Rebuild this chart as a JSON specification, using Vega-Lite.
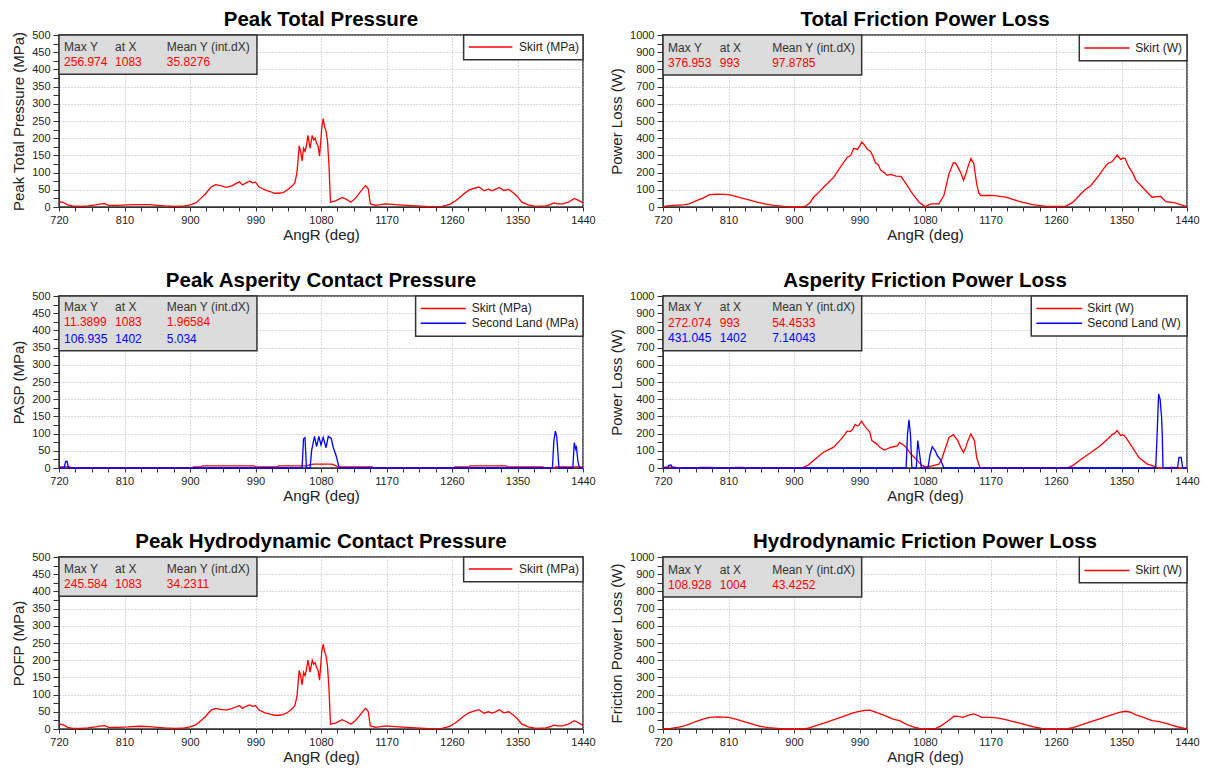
{
  "$schema": "https://vega.github.io/schema/vega-lite/v6.json",
  "background": "white",
  "padding": {"left": 10, "top": 8, "right": 5, "bottom": 3},
  "columns": 2,
  "spacing": {"row": 26, "column": 12},
  "datasets": {
    "tp": [{"x":720,"y":16},{"x":726,"y":13},{"x":732,"y":6},{"x":738,"y":3},{"x":750,"y":2},{"x":760,"y":3},{"x":770,"y":6},{"x":778,"y":9},{"x":783,"y":10},{"x":788,"y":5},{"x":800,"y":5},{"x":815,"y":6},{"x":830,"y":7},{"x":845,"y":7},{"x":855,"y":5},{"x":865,"y":3},{"x":880,"y":2},{"x":893,"y":3},{"x":900,"y":6},{"x":908,"y":12},{"x":915,"y":25},{"x":922,"y":40},{"x":929,"y":58},{"x":935,"y":65},{"x":942,"y":62},{"x":950,"y":57},{"x":958,"y":62},{"x":963,"y":68},{"x":968,"y":73},{"x":972,"y":64},{"x":977,"y":70},{"x":982,"y":75},{"x":986,"y":70},{"x":990,"y":72},{"x":995,"y":58},{"x":1003,"y":50},{"x":1010,"y":45},{"x":1016,"y":40},{"x":1022,"y":40},{"x":1028,"y":42},{"x":1034,"y":50},{"x":1040,"y":60},{"x":1044,"y":70},{"x":1047,"y":100},{"x":1049,"y":150},{"x":1050,"y":178},{"x":1052,"y":162},{"x":1054,"y":134},{"x":1056,"y":171},{"x":1058,"y":162},{"x":1060,"y":178},{"x":1062,"y":208},{"x":1065,"y":171},{"x":1068,"y":208},{"x":1070,"y":195},{"x":1072,"y":200},{"x":1074,"y":185},{"x":1076,"y":177},{"x":1078,"y":148},{"x":1080,"y":200},{"x":1081,"y":230},{"x":1083,"y":257},{"x":1085,"y":232},{"x":1087,"y":220},{"x":1089,"y":190},{"x":1091,"y":120},{"x":1093,"y":14},{"x":1100,"y":18},{"x":1109,"y":28},{"x":1115,"y":22},{"x":1121,"y":14},{"x":1127,"y":25},{"x":1132,"y":38},{"x":1137,"y":52},{"x":1141,"y":62},{"x":1143,"y":58},{"x":1145,"y":52},{"x":1147,"y":20},{"x":1148,"y":9},{"x":1155,"y":5},{"x":1169,"y":9},{"x":1187,"y":6},{"x":1210,"y":3},{"x":1228,"y":1},{"x":1246,"y":2},{"x":1252,"y":5},{"x":1258,"y":9},{"x":1265,"y":18},{"x":1269,"y":25},{"x":1276,"y":38},{"x":1283,"y":49},{"x":1290,"y":54},{"x":1297,"y":58},{"x":1304,"y":47},{"x":1310,"y":52},{"x":1315,"y":47},{"x":1320,"y":52},{"x":1325,"y":57},{"x":1331,"y":48},{"x":1338,"y":51},{"x":1345,"y":40},{"x":1350,"y":30},{"x":1356,"y":14},{"x":1365,"y":6},{"x":1375,"y":2},{"x":1389,"y":3},{"x":1395,"y":7},{"x":1400,"y":12},{"x":1405,"y":9},{"x":1412,"y":9},{"x":1420,"y":14},{"x":1428,"y":25},{"x":1433,"y":20},{"x":1438,"y":14},{"x":1440,"y":13}],
    "hp": [{"x":720,"y":15},{"x":726,"y":12},{"x":732,"y":5},{"x":738,"y":2},{"x":750,"y":2},{"x":760,"y":3},{"x":770,"y":6},{"x":778,"y":9},{"x":783,"y":10},{"x":788,"y":5},{"x":800,"y":5},{"x":815,"y":6},{"x":830,"y":8},{"x":845,"y":7},{"x":855,"y":5},{"x":865,"y":3},{"x":880,"y":2},{"x":893,"y":3},{"x":900,"y":6},{"x":908,"y":12},{"x":915,"y":24},{"x":922,"y":38},{"x":929,"y":55},{"x":935,"y":60},{"x":942,"y":57},{"x":950,"y":55},{"x":958,"y":60},{"x":963,"y":64},{"x":968,"y":68},{"x":972,"y":60},{"x":977,"y":66},{"x":982,"y":70},{"x":986,"y":66},{"x":990,"y":68},{"x":995,"y":55},{"x":1003,"y":47},{"x":1010,"y":43},{"x":1016,"y":40},{"x":1022,"y":40},{"x":1028,"y":42},{"x":1034,"y":48},{"x":1040,"y":58},{"x":1044,"y":68},{"x":1047,"y":95},{"x":1049,"y":145},{"x":1050,"y":170},{"x":1052,"y":155},{"x":1054,"y":128},{"x":1056,"y":165},{"x":1058,"y":155},{"x":1060,"y":172},{"x":1062,"y":200},{"x":1065,"y":165},{"x":1068,"y":200},{"x":1070,"y":188},{"x":1072,"y":193},{"x":1074,"y":178},{"x":1076,"y":170},{"x":1078,"y":142},{"x":1080,"y":195},{"x":1081,"y":225},{"x":1083,"y":246},{"x":1085,"y":225},{"x":1087,"y":212},{"x":1089,"y":182},{"x":1091,"y":115},{"x":1093,"y":14},{"x":1100,"y":17},{"x":1109,"y":27},{"x":1115,"y":21},{"x":1121,"y":14},{"x":1127,"y":24},{"x":1132,"y":36},{"x":1137,"y":50},{"x":1141,"y":60},{"x":1143,"y":56},{"x":1145,"y":50},{"x":1147,"y":19},{"x":1148,"y":9},{"x":1155,"y":5},{"x":1169,"y":9},{"x":1187,"y":6},{"x":1210,"y":3},{"x":1228,"y":1},{"x":1246,"y":2},{"x":1252,"y":5},{"x":1258,"y":9},{"x":1265,"y":18},{"x":1269,"y":25},{"x":1276,"y":37},{"x":1283,"y":47},{"x":1290,"y":52},{"x":1297,"y":56},{"x":1304,"y":46},{"x":1310,"y":50},{"x":1315,"y":46},{"x":1320,"y":50},{"x":1325,"y":56},{"x":1331,"y":47},{"x":1338,"y":50},{"x":1345,"y":39},{"x":1350,"y":29},{"x":1356,"y":14},{"x":1365,"y":6},{"x":1375,"y":2},{"x":1389,"y":3},{"x":1395,"y":7},{"x":1400,"y":11},{"x":1405,"y":9},{"x":1412,"y":9},{"x":1420,"y":14},{"x":1428,"y":24},{"x":1433,"y":19},{"x":1438,"y":13},{"x":1440,"y":12}],
    "tf": [{"x":720,"y":2},{"x":726,"y":6},{"x":734,"y":10},{"x":748,"y":12},{"x":756,"y":18},{"x":766,"y":37},{"x":775,"y":52},{"x":784,"y":72},{"x":795,"y":74},{"x":805,"y":73},{"x":812,"y":71},{"x":820,"y":62},{"x":826,"y":54},{"x":838,"y":42},{"x":849,"y":29},{"x":860,"y":18},{"x":872,"y":10},{"x":886,"y":4},{"x":900,"y":0},{"x":910,"y":1},{"x":916,"y":5},{"x":922,"y":25},{"x":927,"y":57},{"x":934,"y":85},{"x":941,"y":116},{"x":948,"y":145},{"x":955,"y":175},{"x":964,"y":233},{"x":973,"y":288},{"x":978,"y":300},{"x":982,"y":341},{"x":987,"y":335},{"x":991,"y":360},{"x":993,"y":377},{"x":997,"y":360},{"x":1001,"y":335},{"x":1005,"y":324},{"x":1008,"y":300},{"x":1012,"y":257},{"x":1016,"y":245},{"x":1019,"y":214},{"x":1024,"y":200},{"x":1028,"y":184},{"x":1033,"y":190},{"x":1040,"y":180},{"x":1047,"y":178},{"x":1054,"y":135},{"x":1063,"y":76},{"x":1072,"y":27},{"x":1078,"y":8},{"x":1081,"y":2},{"x":1086,"y":15},{"x":1090,"y":18},{"x":1099,"y":18},{"x":1106,"y":67},{"x":1113,"y":194},{"x":1119,"y":257},{"x":1122,"y":255},{"x":1125,"y":233},{"x":1129,"y":200},{"x":1133,"y":155},{"x":1136,"y":190},{"x":1139,"y":233},{"x":1143,"y":282},{"x":1147,"y":253},{"x":1151,"y":135},{"x":1154,"y":80},{"x":1157,"y":67},{"x":1173,"y":67},{"x":1191,"y":57},{"x":1209,"y":33},{"x":1228,"y":14},{"x":1246,"y":4},{"x":1260,"y":3},{"x":1273,"y":4},{"x":1283,"y":27},{"x":1294,"y":76},{"x":1300,"y":100},{"x":1308,"y":125},{"x":1319,"y":184},{"x":1325,"y":220},{"x":1331,"y":253},{"x":1337,"y":263},{"x":1340,"y":280},{"x":1344,"y":302},{"x":1349,"y":276},{"x":1352,"y":285},{"x":1355,"y":282},{"x":1360,"y":233},{"x":1365,"y":200},{"x":1370,"y":155},{"x":1383,"y":96},{"x":1392,"y":57},{"x":1398,"y":60},{"x":1404,"y":61},{"x":1411,"y":31},{"x":1424,"y":24},{"x":1432,"y":12},{"x":1440,"y":2}],
    "hf": [{"x":720,"y":0},{"x":731,"y":4},{"x":740,"y":9},{"x":748,"y":16},{"x":757,"y":30},{"x":766,"y":45},{"x":775,"y":57},{"x":784,"y":68},{"x":797,"y":70},{"x":810,"y":68},{"x":820,"y":57},{"x":830,"y":45},{"x":842,"y":30},{"x":853,"y":16},{"x":865,"y":8},{"x":876,"y":4},{"x":889,"y":0},{"x":912,"y":0},{"x":920,"y":5},{"x":926,"y":14},{"x":940,"y":33},{"x":954,"y":53},{"x":968,"y":73},{"x":981,"y":94},{"x":990,"y":103},{"x":997,"y":108},{"x":1004,"y":109},{"x":1013,"y":97},{"x":1025,"y":78},{"x":1036,"y":58},{"x":1045,"y":49},{"x":1052,"y":33},{"x":1059,"y":19},{"x":1066,"y":10},{"x":1072,"y":4},{"x":1081,"y":0},{"x":1095,"y":4},{"x":1102,"y":18},{"x":1109,"y":39},{"x":1115,"y":58},{"x":1120,"y":74},{"x":1126,"y":73},{"x":1132,"y":68},{"x":1140,"y":80},{"x":1147,"y":88},{"x":1152,"y":80},{"x":1158,"y":68},{"x":1167,"y":68},{"x":1175,"y":66},{"x":1183,"y":62},{"x":1192,"y":53},{"x":1202,"y":43},{"x":1215,"y":28},{"x":1229,"y":12},{"x":1240,"y":4},{"x":1247,"y":0},{"x":1274,"y":0},{"x":1283,"y":8},{"x":1292,"y":19},{"x":1305,"y":38},{"x":1319,"y":58},{"x":1333,"y":78},{"x":1347,"y":97},{"x":1356,"y":103},{"x":1363,"y":97},{"x":1370,"y":82},{"x":1380,"y":67},{"x":1392,"y":49},{"x":1400,"y":44},{"x":1406,"y":39},{"x":1415,"y":28},{"x":1424,"y":16},{"x":1432,"y":8},{"x":1440,"y":0}],
    "ap_s": [{"x":720,"y":3},{"x":735,"y":3},{"x":737,"y":0},{"x":903,"y":0},{"x":905,"y":3},{"x":915,"y":3},{"x":917,"y":6},{"x":988,"y":6},{"x":990,"y":3},{"x":1020,"y":3},{"x":1022,"y":6},{"x":1060,"y":6},{"x":1064,"y":9},{"x":1070,"y":11},{"x":1083,"y":11.4},{"x":1095,"y":11},{"x":1100,"y":7},{"x":1104,"y":3},{"x":1150,"y":3},{"x":1152,"y":0},{"x":1262,"y":0},{"x":1264,"y":3},{"x":1283,"y":3},{"x":1285,"y":6},{"x":1335,"y":6},{"x":1337,"y":3},{"x":1385,"y":3},{"x":1387,"y":0},{"x":1400,"y":0},{"x":1402,"y":3},{"x":1440,"y":3}],
    "ap_l": [{"x":720,"y":0},{"x":727,"y":0},{"x":729,"y":18},{"x":731,"y":20},{"x":733,"y":0},{"x":1054,"y":0},{"x":1056,"y":85},{"x":1058,"y":88},{"x":1060,"y":0},{"x":1065,"y":0},{"x":1067,"y":49},{"x":1071,"y":92},{"x":1074,"y":62},{"x":1077,"y":92},{"x":1080,"y":67},{"x":1083,"y":89},{"x":1087,"y":59},{"x":1090,"y":92},{"x":1094,"y":86},{"x":1097,"y":59},{"x":1101,"y":34},{"x":1105,"y":0},{"x":1398,"y":0},{"x":1400,"y":80},{"x":1402,"y":107},{"x":1404,"y":90},{"x":1406,"y":30},{"x":1407,"y":0},{"x":1426,"y":0},{"x":1428,"y":74},{"x":1430,"y":55},{"x":1431,"y":60},{"x":1433,"y":20},{"x":1435,"y":0},{"x":1440,"y":0}],
    "af_s": [{"x":720,"y":0},{"x":721,"y":5},{"x":737,"y":5},{"x":739,"y":0},{"x":770,"y":0},{"x":771,"y":4},{"x":788,"y":4},{"x":790,"y":0},{"x":818,"y":0},{"x":819,"y":4},{"x":831,"y":4},{"x":833,"y":0},{"x":905,"y":0},{"x":912,"y":2},{"x":919,"y":15},{"x":926,"y":41},{"x":933,"y":65},{"x":940,"y":90},{"x":947,"y":105},{"x":954,"y":120},{"x":963,"y":159},{"x":970,"y":195},{"x":973,"y":214},{"x":977,"y":212},{"x":980,"y":220},{"x":984,"y":253},{"x":987,"y":245},{"x":989,"y":247},{"x":991,"y":262},{"x":993,"y":272},{"x":996,"y":250},{"x":1000,"y":229},{"x":1004,"y":210},{"x":1007,"y":159},{"x":1014,"y":139},{"x":1018,"y":120},{"x":1024,"y":104},{"x":1028,"y":112},{"x":1033,"y":120},{"x":1038,"y":125},{"x":1042,"y":129},{"x":1045,"y":149},{"x":1050,"y":135},{"x":1054,"y":120},{"x":1058,"y":95},{"x":1063,"y":71},{"x":1068,"y":50},{"x":1072,"y":31},{"x":1076,"y":15},{"x":1081,"y":6},{"x":1090,"y":12},{"x":1099,"y":22},{"x":1103,"y":50},{"x":1106,"y":90},{"x":1110,"y":140},{"x":1113,"y":178},{"x":1119,"y":194},{"x":1125,"y":159},{"x":1129,"y":120},{"x":1133,"y":90},{"x":1136,"y":120},{"x":1139,"y":159},{"x":1143,"y":198},{"x":1148,"y":159},{"x":1151,"y":61},{"x":1154,"y":20},{"x":1156,"y":0},{"x":1275,"y":0},{"x":1283,"y":14},{"x":1294,"y":49},{"x":1308,"y":90},{"x":1319,"y":124},{"x":1325,"y":145},{"x":1331,"y":168},{"x":1337,"y":194},{"x":1340,"y":200},{"x":1344,"y":218},{"x":1349,"y":188},{"x":1352,"y":195},{"x":1356,"y":178},{"x":1365,"y":120},{"x":1374,"y":61},{"x":1385,"y":24},{"x":1397,"y":6},{"x":1400,"y":0},{"x":1415,"y":0},{"x":1417,"y":3},{"x":1425,"y":3},{"x":1427,"y":0},{"x":1440,"y":0}],
    "af_l": [{"x":720,"y":0},{"x":726,"y":0},{"x":728,"y":15},{"x":731,"y":18},{"x":733,"y":0},{"x":1054,"y":0},{"x":1056,"y":200},{"x":1058,"y":280},{"x":1060,"y":194},{"x":1062,"y":0},{"x":1068,"y":0},{"x":1070,"y":159},{"x":1072,"y":100},{"x":1075,"y":0},{"x":1084,"y":0},{"x":1087,"y":80},{"x":1090,"y":124},{"x":1094,"y":100},{"x":1097,"y":71},{"x":1101,"y":51},{"x":1104,"y":20},{"x":1106,"y":0},{"x":1397,"y":0},{"x":1399,"y":200},{"x":1401,"y":431},{"x":1403,"y":400},{"x":1405,"y":300},{"x":1406,"y":200},{"x":1407,"y":0},{"x":1427,"y":0},{"x":1429,"y":61},{"x":1432,"y":61},{"x":1434,"y":0},{"x":1440,"y":0}],
    "one": [{}]
  },
  "concat": [
    {
      "title": "Peak Total Pressure",
      "width": 524, "height": 172,
      "resolve": {"axis": {"x": "independent", "y": "independent"}},
      "layer": [
        {"data": {"name": "tp"}, "mark": {"type": "line", "stroke": "#ff0000"},
         "encoding": {
           "x": {"field": "x", "type": "quantitative", "title": "AngR (deg)", "scale": {"domain": [720, 1440], "nice": false, "zero": false}, "axis": {"values": [720,742.5,765,787.5,810,832.5,855,877.5,900,922.5,945,967.5,990,1012.5,1035,1057.5,1080,1102.5,1125,1147.5,1170,1192.5,1215,1237.5,1260,1282.5,1305,1327.5,1350,1372.5,1395,1417.5,1440], "format": "d", "labelOverlap": false, "labelExpr": "datum.value % 90 === 0 ? datum.label : ''", "gridOpacity": {"condition": {"test": "datum.value % 90 === 0", "value": 1}, "value": 0}}},
           "y": {"field": "y", "type": "quantitative", "title": "Peak Total Pressure (MPa)", "scale": {"domain": [0, 500], "nice": false}, "axis": {"values": [0,25,50,75,100,125,150,175,200,225,250,275,300,325,350,375,400,425,450,475,500], "format": "d", "labelOverlap": false, "labelExpr": "datum.value % 50 === 0 ? datum.label : ''", "gridOpacity": {"condition": {"test": "datum.value % 50 === 0", "value": 1}, "value": 0}}}
         }},
        {"data": {"name": "one"}, "mark": {"type": "rect", "fill": "#dcdcdc", "stroke": "#333", "strokeWidth": 1.5}, "encoding": {"x": {"datum": 720, "axis": null}, "x2": {"datum": 992}, "y": {"datum": 500, "axis": null}, "y2": {"datum": 386}}},
        {"data": {"name": "one"}, "mark": {"type": "text", "align": "left", "baseline": "middle", "fontSize": 12, "fill": "#333"}, "encoding": {"x": {"datum": 727, "axis": null}, "y": {"datum": 466, "axis": null}, "text": {"value": "Max Y"}}},
        {"data": {"name": "one"}, "mark": {"type": "text", "align": "left", "baseline": "middle", "fontSize": 12, "fill": "#333"}, "encoding": {"x": {"datum": 797, "axis": null}, "y": {"datum": 466, "axis": null}, "text": {"value": "at X"}}},
        {"data": {"name": "one"}, "mark": {"type": "text", "align": "left", "baseline": "middle", "fontSize": 12, "fill": "#333"}, "encoding": {"x": {"datum": 868, "axis": null}, "y": {"datum": 466, "axis": null}, "text": {"value": "Mean Y (int.dX)"}}},
        {"data": {"name": "one"}, "mark": {"type": "text", "align": "left", "baseline": "middle", "fontSize": 12, "fill": "#ff0000"}, "encoding": {"x": {"datum": 727, "axis": null}, "y": {"datum": 422, "axis": null}, "text": {"value": "256.974"}}},
        {"data": {"name": "one"}, "mark": {"type": "text", "align": "left", "baseline": "middle", "fontSize": 12, "fill": "#ff0000"}, "encoding": {"x": {"datum": 797, "axis": null}, "y": {"datum": 422, "axis": null}, "text": {"value": "1083"}}},
        {"data": {"name": "one"}, "mark": {"type": "text", "align": "left", "baseline": "middle", "fontSize": 12, "fill": "#ff0000"}, "encoding": {"x": {"datum": 868, "axis": null}, "y": {"datum": 422, "axis": null}, "text": {"value": "35.8276"}}},
        {"data": {"name": "one"}, "mark": {"type": "rect", "fill": "white", "stroke": "#333", "strokeWidth": 1.5}, "encoding": {"x": {"datum": 1276, "axis": null}, "x2": {"datum": 1440}, "y": {"datum": 500, "axis": null}, "y2": {"datum": 428}}},
        {"data": {"name": "one"}, "mark": {"type": "rule", "stroke": "#ff0000", "strokeWidth": 1.5}, "encoding": {"x": {"datum": 1283, "axis": null}, "x2": {"datum": 1343}, "y": {"datum": 465, "axis": null}}},
        {"data": {"name": "one"}, "mark": {"type": "text", "align": "left", "baseline": "middle", "fontSize": 12, "fill": "#222"}, "encoding": {"x": {"datum": 1352, "axis": null}, "y": {"datum": 465, "axis": null}, "text": {"value": "Skirt (MPa)"}}}
      ]
    },
    {
      "title": "Total Friction Power Loss",
      "width": 524, "height": 172,
      "resolve": {"axis": {"x": "independent", "y": "independent"}},
      "layer": [
        {"data": {"name": "tf"}, "mark": {"type": "line", "stroke": "#ff0000"},
         "encoding": {
           "x": {"field": "x", "type": "quantitative", "title": "AngR (deg)", "scale": {"domain": [720, 1440], "nice": false, "zero": false}, "axis": {"values": [720,742.5,765,787.5,810,832.5,855,877.5,900,922.5,945,967.5,990,1012.5,1035,1057.5,1080,1102.5,1125,1147.5,1170,1192.5,1215,1237.5,1260,1282.5,1305,1327.5,1350,1372.5,1395,1417.5,1440], "format": "d", "labelOverlap": false, "labelExpr": "datum.value % 90 === 0 ? datum.label : ''", "gridOpacity": {"condition": {"test": "datum.value % 90 === 0", "value": 1}, "value": 0}}},
           "y": {"field": "y", "type": "quantitative", "title": "Power Loss (W)", "scale": {"domain": [0, 1000], "nice": false}, "axis": {"values": [0,50,100,150,200,250,300,350,400,450,500,550,600,650,700,750,800,850,900,950,1000], "format": "d", "labelOverlap": false, "labelExpr": "datum.value % 100 === 0 ? datum.label : ''", "gridOpacity": {"condition": {"test": "datum.value % 100 === 0", "value": 1}, "value": 0}}}
         }},
        {"data": {"name": "one"}, "mark": {"type": "rect", "fill": "#dcdcdc", "stroke": "#333", "strokeWidth": 1.5}, "encoding": {"x": {"datum": 720, "axis": null}, "x2": {"datum": 993}, "y": {"datum": 1000, "axis": null}, "y2": {"datum": 768}}},
        {"data": {"name": "one"}, "mark": {"type": "text", "align": "left", "baseline": "middle", "fontSize": 12, "fill": "#333"}, "encoding": {"x": {"datum": 727, "axis": null}, "y": {"datum": 926, "axis": null}, "text": {"value": "Max Y"}}},
        {"data": {"name": "one"}, "mark": {"type": "text", "align": "left", "baseline": "middle", "fontSize": 12, "fill": "#333"}, "encoding": {"x": {"datum": 798, "axis": null}, "y": {"datum": 926, "axis": null}, "text": {"value": "at X"}}},
        {"data": {"name": "one"}, "mark": {"type": "text", "align": "left", "baseline": "middle", "fontSize": 12, "fill": "#333"}, "encoding": {"x": {"datum": 870, "axis": null}, "y": {"datum": 926, "axis": null}, "text": {"value": "Mean Y (int.dX)"}}},
        {"data": {"name": "one"}, "mark": {"type": "text", "align": "left", "baseline": "middle", "fontSize": 12, "fill": "#ff0000"}, "encoding": {"x": {"datum": 727, "axis": null}, "y": {"datum": 836, "axis": null}, "text": {"value": "376.953"}}},
        {"data": {"name": "one"}, "mark": {"type": "text", "align": "left", "baseline": "middle", "fontSize": 12, "fill": "#ff0000"}, "encoding": {"x": {"datum": 798, "axis": null}, "y": {"datum": 836, "axis": null}, "text": {"value": "993"}}},
        {"data": {"name": "one"}, "mark": {"type": "text", "align": "left", "baseline": "middle", "fontSize": 12, "fill": "#ff0000"}, "encoding": {"x": {"datum": 870, "axis": null}, "y": {"datum": 836, "axis": null}, "text": {"value": "97.8785"}}},
        {"data": {"name": "one"}, "mark": {"type": "rect", "fill": "white", "stroke": "#333", "strokeWidth": 1.5}, "encoding": {"x": {"datum": 1292, "axis": null}, "x2": {"datum": 1440}, "y": {"datum": 1000, "axis": null}, "y2": {"datum": 850}}},
        {"data": {"name": "one"}, "mark": {"type": "rule", "stroke": "#ff0000", "strokeWidth": 1.5}, "encoding": {"x": {"datum": 1299, "axis": null}, "x2": {"datum": 1361}, "y": {"datum": 925, "axis": null}}},
        {"data": {"name": "one"}, "mark": {"type": "text", "align": "left", "baseline": "middle", "fontSize": 12, "fill": "#222"}, "encoding": {"x": {"datum": 1369, "axis": null}, "y": {"datum": 925, "axis": null}, "text": {"value": "Skirt (W)"}}}
      ]
    },
    {
      "title": "Peak Asperity Contact Pressure",
      "width": 524, "height": 172,
      "resolve": {"axis": {"x": "independent", "y": "independent"}},
      "layer": [
        {"data": {"name": "ap_s"}, "mark": {"type": "line", "stroke": "#ff0000"},
         "encoding": {
           "x": {"field": "x", "type": "quantitative", "title": "AngR (deg)", "scale": {"domain": [720, 1440], "nice": false, "zero": false}, "axis": {"values": [720,742.5,765,787.5,810,832.5,855,877.5,900,922.5,945,967.5,990,1012.5,1035,1057.5,1080,1102.5,1125,1147.5,1170,1192.5,1215,1237.5,1260,1282.5,1305,1327.5,1350,1372.5,1395,1417.5,1440], "format": "d", "labelOverlap": false, "labelExpr": "datum.value % 90 === 0 ? datum.label : ''", "gridOpacity": {"condition": {"test": "datum.value % 90 === 0", "value": 1}, "value": 0}}},
           "y": {"field": "y", "type": "quantitative", "title": "PASP (MPa)", "scale": {"domain": [0, 500], "nice": false}, "axis": {"values": [0,25,50,75,100,125,150,175,200,225,250,275,300,325,350,375,400,425,450,475,500], "format": "d", "labelOverlap": false, "labelExpr": "datum.value % 50 === 0 ? datum.label : ''", "gridOpacity": {"condition": {"test": "datum.value % 50 === 0", "value": 1}, "value": 0}}}
         }},
        {"data": {"name": "ap_l"}, "mark": {"type": "line", "stroke": "#0000ff"},
         "encoding": {"x": {"field": "x", "type": "quantitative", "axis": null}, "y": {"field": "y", "type": "quantitative", "axis": null}}},
        {"data": {"name": "one"}, "mark": {"type": "rect", "fill": "#dcdcdc", "stroke": "#333", "strokeWidth": 1.5}, "encoding": {"x": {"datum": 720, "axis": null}, "x2": {"datum": 992}, "y": {"datum": 500, "axis": null}, "y2": {"datum": 341}}},
        {"data": {"name": "one"}, "mark": {"type": "text", "align": "left", "baseline": "middle", "fontSize": 12, "fill": "#333"}, "encoding": {"x": {"datum": 727, "axis": null}, "y": {"datum": 467, "axis": null}, "text": {"value": "Max Y"}}},
        {"data": {"name": "one"}, "mark": {"type": "text", "align": "left", "baseline": "middle", "fontSize": 12, "fill": "#333"}, "encoding": {"x": {"datum": 797, "axis": null}, "y": {"datum": 467, "axis": null}, "text": {"value": "at X"}}},
        {"data": {"name": "one"}, "mark": {"type": "text", "align": "left", "baseline": "middle", "fontSize": 12, "fill": "#333"}, "encoding": {"x": {"datum": 868, "axis": null}, "y": {"datum": 467, "axis": null}, "text": {"value": "Mean Y (int.dX)"}}},
        {"data": {"name": "one"}, "mark": {"type": "text", "align": "left", "baseline": "middle", "fontSize": 12, "fill": "#ff0000"}, "encoding": {"x": {"datum": 727, "axis": null}, "y": {"datum": 423, "axis": null}, "text": {"value": "11.3899"}}},
        {"data": {"name": "one"}, "mark": {"type": "text", "align": "left", "baseline": "middle", "fontSize": 12, "fill": "#ff0000"}, "encoding": {"x": {"datum": 797, "axis": null}, "y": {"datum": 423, "axis": null}, "text": {"value": "1083"}}},
        {"data": {"name": "one"}, "mark": {"type": "text", "align": "left", "baseline": "middle", "fontSize": 12, "fill": "#ff0000"}, "encoding": {"x": {"datum": 868, "axis": null}, "y": {"datum": 423, "axis": null}, "text": {"value": "1.96584"}}},
        {"data": {"name": "one"}, "mark": {"type": "text", "align": "left", "baseline": "middle", "fontSize": 12, "fill": "#0000ff"}, "encoding": {"x": {"datum": 727, "axis": null}, "y": {"datum": 376, "axis": null}, "text": {"value": "106.935"}}},
        {"data": {"name": "one"}, "mark": {"type": "text", "align": "left", "baseline": "middle", "fontSize": 12, "fill": "#0000ff"}, "encoding": {"x": {"datum": 797, "axis": null}, "y": {"datum": 376, "axis": null}, "text": {"value": "1402"}}},
        {"data": {"name": "one"}, "mark": {"type": "text", "align": "left", "baseline": "middle", "fontSize": 12, "fill": "#0000ff"}, "encoding": {"x": {"datum": 868, "axis": null}, "y": {"datum": 376, "axis": null}, "text": {"value": "5.034"}}},
        {"data": {"name": "one"}, "mark": {"type": "rect", "fill": "white", "stroke": "#333", "strokeWidth": 1.5}, "encoding": {"x": {"datum": 1210, "axis": null}, "x2": {"datum": 1440}, "y": {"datum": 500, "axis": null}, "y2": {"datum": 383}}},
        {"data": {"name": "one"}, "mark": {"type": "rule", "stroke": "#ff0000", "strokeWidth": 1.5}, "encoding": {"x": {"datum": 1217, "axis": null}, "x2": {"datum": 1279}, "y": {"datum": 464, "axis": null}}},
        {"data": {"name": "one"}, "mark": {"type": "text", "align": "left", "baseline": "middle", "fontSize": 12, "fill": "#222"}, "encoding": {"x": {"datum": 1287, "axis": null}, "y": {"datum": 464, "axis": null}, "text": {"value": "Skirt (MPa)"}}},
        {"data": {"name": "one"}, "mark": {"type": "rule", "stroke": "#0000ff", "strokeWidth": 1.5}, "encoding": {"x": {"datum": 1217, "axis": null}, "x2": {"datum": 1279}, "y": {"datum": 421, "axis": null}}},
        {"data": {"name": "one"}, "mark": {"type": "text", "align": "left", "baseline": "middle", "fontSize": 12, "fill": "#222"}, "encoding": {"x": {"datum": 1287, "axis": null}, "y": {"datum": 421, "axis": null}, "text": {"value": "Second Land (MPa)"}}}
      ]
    },
    {
      "title": "Asperity Friction Power Loss",
      "width": 524, "height": 172,
      "resolve": {"axis": {"x": "independent", "y": "independent"}},
      "layer": [
        {"data": {"name": "af_s"}, "mark": {"type": "line", "stroke": "#ff0000"},
         "encoding": {
           "x": {"field": "x", "type": "quantitative", "title": "AngR (deg)", "scale": {"domain": [720, 1440], "nice": false, "zero": false}, "axis": {"values": [720,742.5,765,787.5,810,832.5,855,877.5,900,922.5,945,967.5,990,1012.5,1035,1057.5,1080,1102.5,1125,1147.5,1170,1192.5,1215,1237.5,1260,1282.5,1305,1327.5,1350,1372.5,1395,1417.5,1440], "format": "d", "labelOverlap": false, "labelExpr": "datum.value % 90 === 0 ? datum.label : ''", "gridOpacity": {"condition": {"test": "datum.value % 90 === 0", "value": 1}, "value": 0}}},
           "y": {"field": "y", "type": "quantitative", "title": "Power Loss (W)", "scale": {"domain": [0, 1000], "nice": false}, "axis": {"values": [0,50,100,150,200,250,300,350,400,450,500,550,600,650,700,750,800,850,900,950,1000], "format": "d", "labelOverlap": false, "labelExpr": "datum.value % 100 === 0 ? datum.label : ''", "gridOpacity": {"condition": {"test": "datum.value % 100 === 0", "value": 1}, "value": 0}}}
         }},
        {"data": {"name": "af_l"}, "mark": {"type": "line", "stroke": "#0000ff"},
         "encoding": {"x": {"field": "x", "type": "quantitative", "axis": null}, "y": {"field": "y", "type": "quantitative", "axis": null}}},
        {"data": {"name": "one"}, "mark": {"type": "rect", "fill": "#dcdcdc", "stroke": "#333", "strokeWidth": 1.5}, "encoding": {"x": {"datum": 720, "axis": null}, "x2": {"datum": 993}, "y": {"datum": 1000, "axis": null}, "y2": {"datum": 682}}},
        {"data": {"name": "one"}, "mark": {"type": "text", "align": "left", "baseline": "middle", "fontSize": 12, "fill": "#333"}, "encoding": {"x": {"datum": 727, "axis": null}, "y": {"datum": 934, "axis": null}, "text": {"value": "Max Y"}}},
        {"data": {"name": "one"}, "mark": {"type": "text", "align": "left", "baseline": "middle", "fontSize": 12, "fill": "#333"}, "encoding": {"x": {"datum": 798, "axis": null}, "y": {"datum": 934, "axis": null}, "text": {"value": "at X"}}},
        {"data": {"name": "one"}, "mark": {"type": "text", "align": "left", "baseline": "middle", "fontSize": 12, "fill": "#333"}, "encoding": {"x": {"datum": 870, "axis": null}, "y": {"datum": 934, "axis": null}, "text": {"value": "Mean Y (int.dX)"}}},
        {"data": {"name": "one"}, "mark": {"type": "text", "align": "left", "baseline": "middle", "fontSize": 12, "fill": "#ff0000"}, "encoding": {"x": {"datum": 727, "axis": null}, "y": {"datum": 845, "axis": null}, "text": {"value": "272.074"}}},
        {"data": {"name": "one"}, "mark": {"type": "text", "align": "left", "baseline": "middle", "fontSize": 12, "fill": "#ff0000"}, "encoding": {"x": {"datum": 798, "axis": null}, "y": {"datum": 845, "axis": null}, "text": {"value": "993"}}},
        {"data": {"name": "one"}, "mark": {"type": "text", "align": "left", "baseline": "middle", "fontSize": 12, "fill": "#ff0000"}, "encoding": {"x": {"datum": 870, "axis": null}, "y": {"datum": 845, "axis": null}, "text": {"value": "54.4533"}}},
        {"data": {"name": "one"}, "mark": {"type": "text", "align": "left", "baseline": "middle", "fontSize": 12, "fill": "#0000ff"}, "encoding": {"x": {"datum": 727, "axis": null}, "y": {"datum": 753, "axis": null}, "text": {"value": "431.045"}}},
        {"data": {"name": "one"}, "mark": {"type": "text", "align": "left", "baseline": "middle", "fontSize": 12, "fill": "#0000ff"}, "encoding": {"x": {"datum": 798, "axis": null}, "y": {"datum": 753, "axis": null}, "text": {"value": "1402"}}},
        {"data": {"name": "one"}, "mark": {"type": "text", "align": "left", "baseline": "middle", "fontSize": 12, "fill": "#0000ff"}, "encoding": {"x": {"datum": 870, "axis": null}, "y": {"datum": 753, "axis": null}, "text": {"value": "7.14043"}}},
        {"data": {"name": "one"}, "mark": {"type": "rect", "fill": "white", "stroke": "#333", "strokeWidth": 1.5}, "encoding": {"x": {"datum": 1226, "axis": null}, "x2": {"datum": 1440}, "y": {"datum": 1000, "axis": null}, "y2": {"datum": 767}}},
        {"data": {"name": "one"}, "mark": {"type": "rule", "stroke": "#ff0000", "strokeWidth": 1.5}, "encoding": {"x": {"datum": 1233, "axis": null}, "x2": {"datum": 1296}, "y": {"datum": 928, "axis": null}}},
        {"data": {"name": "one"}, "mark": {"type": "text", "align": "left", "baseline": "middle", "fontSize": 12, "fill": "#222"}, "encoding": {"x": {"datum": 1303, "axis": null}, "y": {"datum": 928, "axis": null}, "text": {"value": "Skirt (W)"}}},
        {"data": {"name": "one"}, "mark": {"type": "rule", "stroke": "#0000ff", "strokeWidth": 1.5}, "encoding": {"x": {"datum": 1233, "axis": null}, "x2": {"datum": 1296}, "y": {"datum": 841, "axis": null}}},
        {"data": {"name": "one"}, "mark": {"type": "text", "align": "left", "baseline": "middle", "fontSize": 12, "fill": "#222"}, "encoding": {"x": {"datum": 1303, "axis": null}, "y": {"datum": 841, "axis": null}, "text": {"value": "Second Land (W)"}}}
      ]
    },
    {
      "title": "Peak Hydrodynamic Contact Pressure",
      "width": 524, "height": 172,
      "resolve": {"axis": {"x": "independent", "y": "independent"}},
      "layer": [
        {"data": {"name": "hp"}, "mark": {"type": "line", "stroke": "#ff0000"},
         "encoding": {
           "x": {"field": "x", "type": "quantitative", "title": "AngR (deg)", "scale": {"domain": [720, 1440], "nice": false, "zero": false}, "axis": {"values": [720,742.5,765,787.5,810,832.5,855,877.5,900,922.5,945,967.5,990,1012.5,1035,1057.5,1080,1102.5,1125,1147.5,1170,1192.5,1215,1237.5,1260,1282.5,1305,1327.5,1350,1372.5,1395,1417.5,1440], "format": "d", "labelOverlap": false, "labelExpr": "datum.value % 90 === 0 ? datum.label : ''", "gridOpacity": {"condition": {"test": "datum.value % 90 === 0", "value": 1}, "value": 0}}},
           "y": {"field": "y", "type": "quantitative", "title": "POFP (MPa)", "scale": {"domain": [0, 500], "nice": false}, "axis": {"values": [0,25,50,75,100,125,150,175,200,225,250,275,300,325,350,375,400,425,450,475,500], "format": "d", "labelOverlap": false, "labelExpr": "datum.value % 50 === 0 ? datum.label : ''", "gridOpacity": {"condition": {"test": "datum.value % 50 === 0", "value": 1}, "value": 0}}}
         }},
        {"data": {"name": "one"}, "mark": {"type": "rect", "fill": "#dcdcdc", "stroke": "#333", "strokeWidth": 1.5}, "encoding": {"x": {"datum": 720, "axis": null}, "x2": {"datum": 992}, "y": {"datum": 500, "axis": null}, "y2": {"datum": 386}}},
        {"data": {"name": "one"}, "mark": {"type": "text", "align": "left", "baseline": "middle", "fontSize": 12, "fill": "#333"}, "encoding": {"x": {"datum": 727, "axis": null}, "y": {"datum": 466, "axis": null}, "text": {"value": "Max Y"}}},
        {"data": {"name": "one"}, "mark": {"type": "text", "align": "left", "baseline": "middle", "fontSize": 12, "fill": "#333"}, "encoding": {"x": {"datum": 797, "axis": null}, "y": {"datum": 466, "axis": null}, "text": {"value": "at X"}}},
        {"data": {"name": "one"}, "mark": {"type": "text", "align": "left", "baseline": "middle", "fontSize": 12, "fill": "#333"}, "encoding": {"x": {"datum": 868, "axis": null}, "y": {"datum": 466, "axis": null}, "text": {"value": "Mean Y (int.dX)"}}},
        {"data": {"name": "one"}, "mark": {"type": "text", "align": "left", "baseline": "middle", "fontSize": 12, "fill": "#ff0000"}, "encoding": {"x": {"datum": 727, "axis": null}, "y": {"datum": 422, "axis": null}, "text": {"value": "245.584"}}},
        {"data": {"name": "one"}, "mark": {"type": "text", "align": "left", "baseline": "middle", "fontSize": 12, "fill": "#ff0000"}, "encoding": {"x": {"datum": 797, "axis": null}, "y": {"datum": 422, "axis": null}, "text": {"value": "1083"}}},
        {"data": {"name": "one"}, "mark": {"type": "text", "align": "left", "baseline": "middle", "fontSize": 12, "fill": "#ff0000"}, "encoding": {"x": {"datum": 868, "axis": null}, "y": {"datum": 422, "axis": null}, "text": {"value": "34.2311"}}},
        {"data": {"name": "one"}, "mark": {"type": "rect", "fill": "white", "stroke": "#333", "strokeWidth": 1.5}, "encoding": {"x": {"datum": 1276, "axis": null}, "x2": {"datum": 1440}, "y": {"datum": 500, "axis": null}, "y2": {"datum": 428}}},
        {"data": {"name": "one"}, "mark": {"type": "rule", "stroke": "#ff0000", "strokeWidth": 1.5}, "encoding": {"x": {"datum": 1283, "axis": null}, "x2": {"datum": 1343}, "y": {"datum": 465, "axis": null}}},
        {"data": {"name": "one"}, "mark": {"type": "text", "align": "left", "baseline": "middle", "fontSize": 12, "fill": "#222"}, "encoding": {"x": {"datum": 1352, "axis": null}, "y": {"datum": 465, "axis": null}, "text": {"value": "Skirt (MPa)"}}}
      ]
    },
    {
      "title": "Hydrodynamic Friction Power Loss",
      "width": 524, "height": 172,
      "resolve": {"axis": {"x": "independent", "y": "independent"}},
      "layer": [
        {"data": {"name": "hf"}, "mark": {"type": "line", "stroke": "#ff0000"},
         "encoding": {
           "x": {"field": "x", "type": "quantitative", "title": "AngR (deg)", "scale": {"domain": [720, 1440], "nice": false, "zero": false}, "axis": {"values": [720,742.5,765,787.5,810,832.5,855,877.5,900,922.5,945,967.5,990,1012.5,1035,1057.5,1080,1102.5,1125,1147.5,1170,1192.5,1215,1237.5,1260,1282.5,1305,1327.5,1350,1372.5,1395,1417.5,1440], "format": "d", "labelOverlap": false, "labelExpr": "datum.value % 90 === 0 ? datum.label : ''", "gridOpacity": {"condition": {"test": "datum.value % 90 === 0", "value": 1}, "value": 0}}},
           "y": {"field": "y", "type": "quantitative", "title": "Friction Power Loss (W)", "scale": {"domain": [0, 1000], "nice": false}, "axis": {"values": [0,50,100,150,200,250,300,350,400,450,500,550,600,650,700,750,800,850,900,950,1000], "format": "d", "labelOverlap": false, "labelExpr": "datum.value % 100 === 0 ? datum.label : ''", "gridOpacity": {"condition": {"test": "datum.value % 100 === 0", "value": 1}, "value": 0}}}
         }},
        {"data": {"name": "one"}, "mark": {"type": "rect", "fill": "#dcdcdc", "stroke": "#333", "strokeWidth": 1.5}, "encoding": {"x": {"datum": 720, "axis": null}, "x2": {"datum": 993}, "y": {"datum": 1000, "axis": null}, "y2": {"datum": 768}}},
        {"data": {"name": "one"}, "mark": {"type": "text", "align": "left", "baseline": "middle", "fontSize": 12, "fill": "#333"}, "encoding": {"x": {"datum": 727, "axis": null}, "y": {"datum": 926, "axis": null}, "text": {"value": "Max Y"}}},
        {"data": {"name": "one"}, "mark": {"type": "text", "align": "left", "baseline": "middle", "fontSize": 12, "fill": "#333"}, "encoding": {"x": {"datum": 798, "axis": null}, "y": {"datum": 926, "axis": null}, "text": {"value": "at X"}}},
        {"data": {"name": "one"}, "mark": {"type": "text", "align": "left", "baseline": "middle", "fontSize": 12, "fill": "#333"}, "encoding": {"x": {"datum": 870, "axis": null}, "y": {"datum": 926, "axis": null}, "text": {"value": "Mean Y (int.dX)"}}},
        {"data": {"name": "one"}, "mark": {"type": "text", "align": "left", "baseline": "middle", "fontSize": 12, "fill": "#ff0000"}, "encoding": {"x": {"datum": 727, "axis": null}, "y": {"datum": 836, "axis": null}, "text": {"value": "108.928"}}},
        {"data": {"name": "one"}, "mark": {"type": "text", "align": "left", "baseline": "middle", "fontSize": 12, "fill": "#ff0000"}, "encoding": {"x": {"datum": 798, "axis": null}, "y": {"datum": 836, "axis": null}, "text": {"value": "1004"}}},
        {"data": {"name": "one"}, "mark": {"type": "text", "align": "left", "baseline": "middle", "fontSize": 12, "fill": "#ff0000"}, "encoding": {"x": {"datum": 870, "axis": null}, "y": {"datum": 836, "axis": null}, "text": {"value": "43.4252"}}},
        {"data": {"name": "one"}, "mark": {"type": "rect", "fill": "white", "stroke": "#333", "strokeWidth": 1.5}, "encoding": {"x": {"datum": 1292, "axis": null}, "x2": {"datum": 1440}, "y": {"datum": 1000, "axis": null}, "y2": {"datum": 850}}},
        {"data": {"name": "one"}, "mark": {"type": "rule", "stroke": "#ff0000", "strokeWidth": 1.5}, "encoding": {"x": {"datum": 1299, "axis": null}, "x2": {"datum": 1361}, "y": {"datum": 922, "axis": null}}},
        {"data": {"name": "one"}, "mark": {"type": "text", "align": "left", "baseline": "middle", "fontSize": 12, "fill": "#222"}, "encoding": {"x": {"datum": 1369, "axis": null}, "y": {"datum": 922, "axis": null}, "text": {"value": "Skirt (W)"}}}
      ]
    }
  ],
  "config": {
    "font": "Liberation Sans",
    "view": {"stroke": "#333", "strokeWidth": 1.5},
    "axis": {"labelFont": "Liberation Sans", "labelFontSize": 11, "labelColor": "#222", "titleFont": "Liberation Sans", "titleFontSize": 15, "titleFontWeight": "normal", "titleColor": "#222", "gridColor": "#b4b4b4", "gridDash": [1, 2], "domainColor": "#333", "tickColor": "#333", "labelPadding": 3, "labelFlush": false, "labelOverlap": false},
    "axisX": {"tickSize": 4, "titlePadding": 2},
    "axisY": {"tickSize": 6, "titlePadding": 5},
    "title": {"font": "Liberation Sans", "fontSize": 20.5, "fontWeight": "bold", "color": "#000", "anchor": "middle", "offset": -1},
    "line": {"strokeWidth": 1.3},
    "text": {"font": "Liberation Sans"}
  }
}
